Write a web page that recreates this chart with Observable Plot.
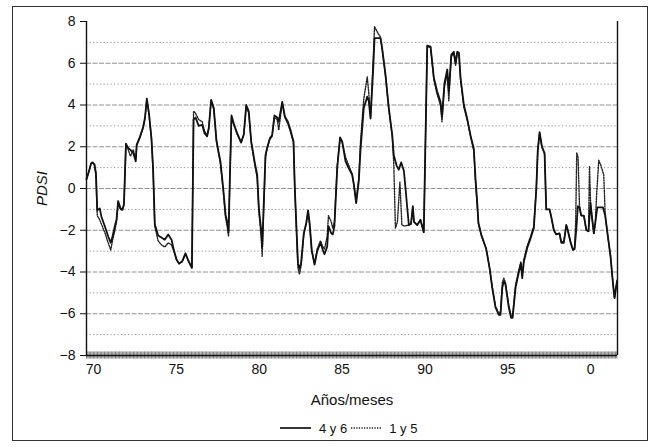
<!DOCTYPE html>
<html><head><meta charset="utf-8">
<script src="https://cdn.jsdelivr.net/npm/d3@7"></script>
<script src="https://cdn.jsdelivr.net/npm/@observablehq/plot@0.6"></script>
<style>
body{margin:0;background:#fff;font-family:"Liberation Sans",Arial,sans-serif;color:#111;}
#frame{position:absolute;left:12px;top:6px;width:634px;height:433px;border:1px solid #333;}
#chart{position:absolute;left:0;top:0;}
#legend{position:absolute;left:267px;top:413px;height:16px;display:flex;align-items:center;font-size:13px;white-space:nowrap;}
#legend svg{display:block;}
</style></head><body>
<div id="frame"><div id="chart"></div>
<div id="legend">
<svg width="31" height="6"><line x1="0" y1="3" x2="31" y2="3" stroke="#111" stroke-width="1.7"/></svg>
<span style="margin-left:8px">4 y 6</span>
<svg width="30" height="6" style="margin-left:4px"><line x1="0" y1="3" x2="30" y2="3" stroke="#222" stroke-width="1.4" stroke-dasharray="1.3,1.3"/></svg>
<span style="margin-left:8px">1 y 5</span>
</div></div>
<script>
// Serie "4 y 6" (línea continua)
const t46 = [1969.58,1969.72,1969.86,1969.94,1970.06,1970.15,1970.23,1970.38,1970.48,1970.68,1970.89,1971.04,1971.15,1971.29,1971.39,1971.49,1971.63,1971.75,1971.84,1971.96,1972.08,1972.23,1972.40,1972.55,1972.61,1972.79,1973.00,1973.11,1973.22,1973.35,1973.50,1973.60,1973.70,1973.90,1974.10,1974.30,1974.51,1974.71,1974.85,1975.01,1975.16,1975.35,1975.55,1975.72,1975.94,1976.04,1976.16,1976.35,1976.56,1976.70,1976.86,1976.96,1977.10,1977.26,1977.42,1977.50,1977.66,1977.83,1977.97,1978.07,1978.15,1978.23,1978.33,1978.47,1978.67,1978.91,1979.07,1979.22,1979.37,1979.52,1979.72,1979.88,1979.98,1980.12,1980.18,1980.38,1980.48,1980.64,1980.78,1980.92,1981.09,1981.18,1981.39,1981.55,1981.73,1981.89,1982.07,1982.15,1982.25,1982.34,1982.43,1982.53,1982.69,1982.84,1982.95,1983.04,1983.17,1983.34,1983.50,1983.70,1983.84,1983.94,1984.10,1984.18,1984.35,1984.44,1984.54,1984.71,1984.88,1985.01,1985.21,1985.41,1985.61,1985.71,1985.85,1986.01,1986.11,1986.31,1986.52,1986.61,1986.72,1986.88,1986.96,1987.16,1987.32,1987.42,1987.62,1987.82,1988.03,1988.12,1988.29,1988.42,1988.57,1988.73,1988.83,1988.93,1989.03,1989.16,1989.27,1989.34,1989.54,1989.73,1989.93,1990.14,1990.34,1990.54,1990.74,1990.94,1991.03,1991.18,1991.35,1991.44,1991.59,1991.74,1991.85,1991.95,1992.05,1992.15,1992.35,1992.55,1992.75,1992.95,1993.05,1993.15,1993.23,1993.40,1993.70,1993.90,1994.06,1994.26,1994.46,1994.56,1994.67,1994.76,1994.86,1995.06,1995.20,1995.29,1995.47,1995.67,1995.79,1995.87,1995.97,1996.17,1996.37,1996.57,1996.72,1996.81,1996.92,1997.06,1997.22,1997.32,1997.52,1997.62,1997.78,1997.92,1998.12,1998.23,1998.38,1998.53,1998.62,1998.79,1998.93,1999.03,1999.13,1999.23,1999.33,1999.43,1999.59,1999.74,1999.87,1999.99,2000.07,2000.19,2000.28,2000.40,2000.74,2000.88,2001.04,2001.20,2001.34,2001.44,2001.54,2001.60];
const v46 = [0.45,0.8,1.2,1.25,1.15,0.75,-1.05,-0.95,-1.35,-1.8,-2.3,-2.6,-2.3,-1.8,-1.5,-0.6,-0.95,-1.0,-0.75,2.15,1.95,1.85,1.7,1.3,2.1,2.45,2.95,3.4,4.3,3.6,2.4,0.9,-1.7,-2.25,-2.35,-2.45,-2.2,-2.45,-2.95,-3.4,-3.6,-3.5,-3.1,-3.45,-3.8,3.3,3.4,3.0,3.05,2.65,2.5,2.9,4.25,3.85,2.3,1.95,1.3,0.0,-1.25,-1.6,-2.1,0.5,3.5,3.1,2.65,2.2,2.6,4.0,3.7,2.25,1.3,0.65,-0.95,-2.0,-2.8,1.6,1.95,2.4,2.55,3.5,3.4,3.2,4.15,3.45,3.2,2.8,2.25,0.0,-1.9,-3.6,-3.85,-3.55,-2.15,-1.65,-1.05,-1.65,-2.95,-3.65,-3.0,-2.6,-2.95,-3.15,-2.8,-1.8,-2.15,-2.2,-1.8,1.0,2.45,2.25,1.3,0.95,0.65,0.2,-0.7,0.35,1.8,3.85,4.4,4.2,3.35,5.75,7.2,7.2,7.2,6.7,5.45,3.85,2.55,1.6,1.1,0.9,1.25,0.85,0.0,-0.9,-1.75,-1.7,-0.85,-1.6,-1.75,-1.5,-2.1,6.85,6.8,5.3,4.65,4.15,3.45,5.05,5.7,4.65,6.4,6.55,6.0,6.55,6.5,5.3,4.0,3.35,2.55,1.9,0.5,-0.6,-1.65,-2.2,-2.9,-3.8,-4.75,-5.7,-6.05,-6.05,-4.75,-4.45,-4.6,-5.7,-6.2,-6.2,-4.75,-4.0,-3.6,-4.3,-3.5,-2.85,-2.4,-1.9,-0.05,1.85,2.7,2.0,1.7,-1.0,-1.0,-1.35,-2.0,-2.2,-2.15,-2.6,-2.6,-1.75,-2.0,-2.6,-2.95,-2.9,-2.0,-0.85,-0.9,-1.3,-1.3,-2.0,-2.05,-0.7,-1.3,-2.15,-1.65,-0.9,-0.9,-1.3,-2.3,-3.25,-4.5,-5.25,-4.7,-4.4];

// Serie "1 y 5" (línea punteada)
const t15 = [1969.58,1969.72,1969.86,1969.94,1970.06,1970.15,1970.23,1970.38,1970.48,1970.68,1970.89,1971.04,1971.15,1971.29,1971.39,1971.49,1971.63,1971.75,1971.84,1971.96,1972.08,1972.23,1972.40,1972.55,1972.61,1972.79,1973.00,1973.11,1973.22,1973.35,1973.50,1973.60,1973.70,1973.90,1974.10,1974.30,1974.51,1974.71,1974.85,1975.01,1975.16,1975.35,1975.55,1975.72,1975.94,1976.04,1976.16,1976.35,1976.56,1976.70,1976.86,1976.96,1977.10,1977.26,1977.42,1977.50,1977.66,1977.83,1977.97,1978.07,1978.15,1978.23,1978.33,1978.47,1978.67,1978.91,1979.07,1979.22,1979.37,1979.52,1979.72,1979.88,1979.98,1980.12,1980.18,1980.38,1980.48,1980.64,1980.78,1980.92,1981.09,1981.18,1981.39,1981.55,1981.73,1981.89,1982.07,1982.15,1982.25,1982.34,1982.43,1982.53,1982.69,1982.84,1982.95,1983.04,1983.17,1983.34,1983.50,1983.70,1983.84,1983.94,1984.10,1984.18,1984.35,1984.44,1984.54,1984.71,1984.88,1985.01,1985.21,1985.41,1985.61,1985.71,1985.85,1986.01,1986.11,1986.31,1986.52,1986.61,1986.72,1986.88,1986.96,1987.16,1987.32,1987.42,1987.62,1987.82,1988.03,1988.12,1988.22,1988.34,1988.49,1988.61,1988.76,1989.03,1989.16,1989.27,1989.34,1989.54,1989.73,1989.93,1990.14,1990.34,1990.54,1990.74,1990.94,1991.03,1991.18,1991.35,1991.44,1991.59,1991.74,1991.85,1991.95,1992.05,1992.15,1992.35,1992.55,1992.75,1992.95,1993.05,1993.15,1993.23,1993.40,1993.70,1993.90,1994.06,1994.26,1994.46,1994.56,1994.67,1994.76,1994.86,1995.06,1995.20,1995.29,1995.47,1995.67,1995.79,1995.87,1995.97,1996.17,1996.37,1996.57,1996.72,1996.81,1996.92,1997.06,1997.22,1997.32,1997.52,1997.62,1997.78,1997.92,1998.12,1998.23,1998.38,1998.53,1998.62,1998.79,1998.93,1999.03,1999.10,1999.16,1999.24,1999.33,1999.43,1999.59,1999.74,1999.87,1999.93,2000.00,2000.07,2000.19,2000.28,2000.36,2000.49,2000.62,2000.79,2000.88,2001.04,2001.20,2001.34,2001.44,2001.54,2001.60];
const v15 = [0.45,0.8,1.2,1.25,1.15,0.6,-1.3,-1.5,-1.7,-2.1,-2.6,-2.95,-2.5,-2.0,-1.6,-0.7,-1.0,-1.05,-0.8,2.1,1.9,1.55,1.85,1.4,2.05,2.4,2.9,3.35,4.25,3.55,2.35,0.8,-1.8,-2.5,-2.7,-2.8,-2.6,-2.7,-3.0,-3.4,-3.6,-3.5,-3.15,-3.45,-3.8,3.7,3.6,3.3,3.2,2.75,2.55,2.9,4.2,3.8,2.3,1.9,1.2,-0.1,-1.4,-1.8,-2.3,0.4,3.4,3.05,2.6,2.2,2.55,3.95,3.6,2.2,1.2,0.5,-1.1,-2.3,-3.25,1.5,1.9,2.35,2.5,3.4,3.3,2.8,4.1,3.4,3.1,2.7,2.2,-0.1,-2.1,-3.8,-4.1,-3.7,-2.2,-1.7,-1.1,-1.7,-3.0,-3.6,-2.9,-2.5,-2.8,-2.9,-2.3,-1.3,-1.6,-1.9,-1.6,1.1,2.4,2.2,1.5,1.1,0.7,0.2,-0.6,0.5,2.2,4.3,5.35,4.6,3.45,6.2,7.75,7.45,7.25,6.7,5.4,3.8,2.5,1.2,-1.9,-1.6,0.3,-1.75,-1.8,-1.75,-1.7,-0.9,-1.6,-1.75,-1.5,-2.1,6.8,6.75,5.2,4.5,4.0,3.2,4.9,5.5,4.2,6.3,6.5,5.9,6.5,6.45,5.2,3.9,3.3,2.5,1.8,0.3,-0.8,-1.7,-2.25,-2.9,-3.8,-4.7,-5.65,-6.0,-5.9,-4.5,-4.3,-4.5,-5.6,-6.1,-6.1,-4.6,-3.9,-3.5,-4.1,-3.4,-2.75,-2.3,-1.8,0.0,1.8,2.65,2.0,1.65,-1.0,-1.0,-1.35,-2.0,-2.2,-2.15,-2.55,-2.55,-1.75,-2.0,-2.55,-2.9,-2.9,-1.5,1.7,1.5,-0.9,-1.3,-1.3,-2.0,-2.05,1.05,-0.8,-1.3,-2.15,-1.65,-0.3,1.35,1.1,0.65,-1.3,-2.3,-3.25,-4.5,-5.25,-4.7,-4.4];

const xTickYears = [1970,1975,1980,1985,1990,1995,2000];
const xTickLabels = ["70","75","80","85","90","95","0"];
const yTicks = [-8,-6,-4,-2,0,2,4,6,8];
const gridEven = [-6,-4,-2,0,2,4,6];
const gridOdd = [-7,-5,-3,-1,1,3,5,7];
const xDomain = [1969.58, 2001.62];
const yDomain = [-8, 8];

const d46 = t46.map((t,i)=>({t, v:v46[i]}));
const d15 = t15.map((t,i)=>({t, v:v15[i]}));
const monthTicks = d3.range(0, 400).map(k => xDomain[0] + k/12).filter(t => t <= xDomain[1]);
const xLabel = new Map(xTickYears.map((y,i)=>[y, xTickLabels[i]]));

const chart = Plot.plot({
  width: 634, height: 400,
  marginLeft: 73, marginRight: 30, marginTop: 14, marginBottom: 52,
  x: {domain: xDomain},
  y: {domain: yDomain},
  style: {fontFamily: "'Liberation Sans', Arial, sans-serif", fontSize: "14px", color: "#111", background: "transparent", overflow: "visible"},
  marks: [
    Plot.ruleY(gridEven, {stroke: "#777", strokeDasharray: "5,1.5", strokeWidth: 0.8}),
    Plot.ruleY(gridOdd, {stroke: "#888", strokeDasharray: "1.2,2.3", strokeWidth: 0.9}),
    Plot.ruleX(monthTicks, {y1: -8.17, y2: -7.83, stroke: "#444", strokeWidth: 0.7}),
    Plot.ruleY([yDomain[0]], {stroke: "#111", strokeWidth: 1.3}),
    Plot.ruleX([xDomain[0]], {stroke: "#111", strokeWidth: 1.4}),
    Plot.ruleX([xDomain[1]], {stroke: "#111", strokeWidth: 1.4}),
    Plot.axisY({ticks: yTicks, tickSize: 6, tickPadding: 5,
      tickFormat: d => d < 0 ? "\u2212" + Math.abs(d) : String(d),
      label: "PDSI", labelAnchor: "center", labelOffset: 50, labelArrow: "none"}),
    Plot.axisX({ticks: xTickYears, tickSize: 0, tickPadding: 9,
      tickFormat: d => xLabel.get(d),
      label: "Años/meses", labelAnchor: "center", labelOffset: 49, labelArrow: "none"}),
    Plot.line(d15, {x: "t", y: "v", stroke: "#222", strokeWidth: 1.4, strokeDasharray: "1.3,1.3"}),
    Plot.line(d46, {x: "t", y: "v", stroke: "#111", strokeWidth: 1.8})
  ]
});
document.getElementById("chart").appendChild(chart);
d3.select(chart).selectAll('[aria-label="y-axis label"] text').style("font-style", "italic").style("font-size", "15px");
d3.select(chart).selectAll('[aria-label="x-axis label"] text').style("font-size", "15px");
</script>
</body></html>
